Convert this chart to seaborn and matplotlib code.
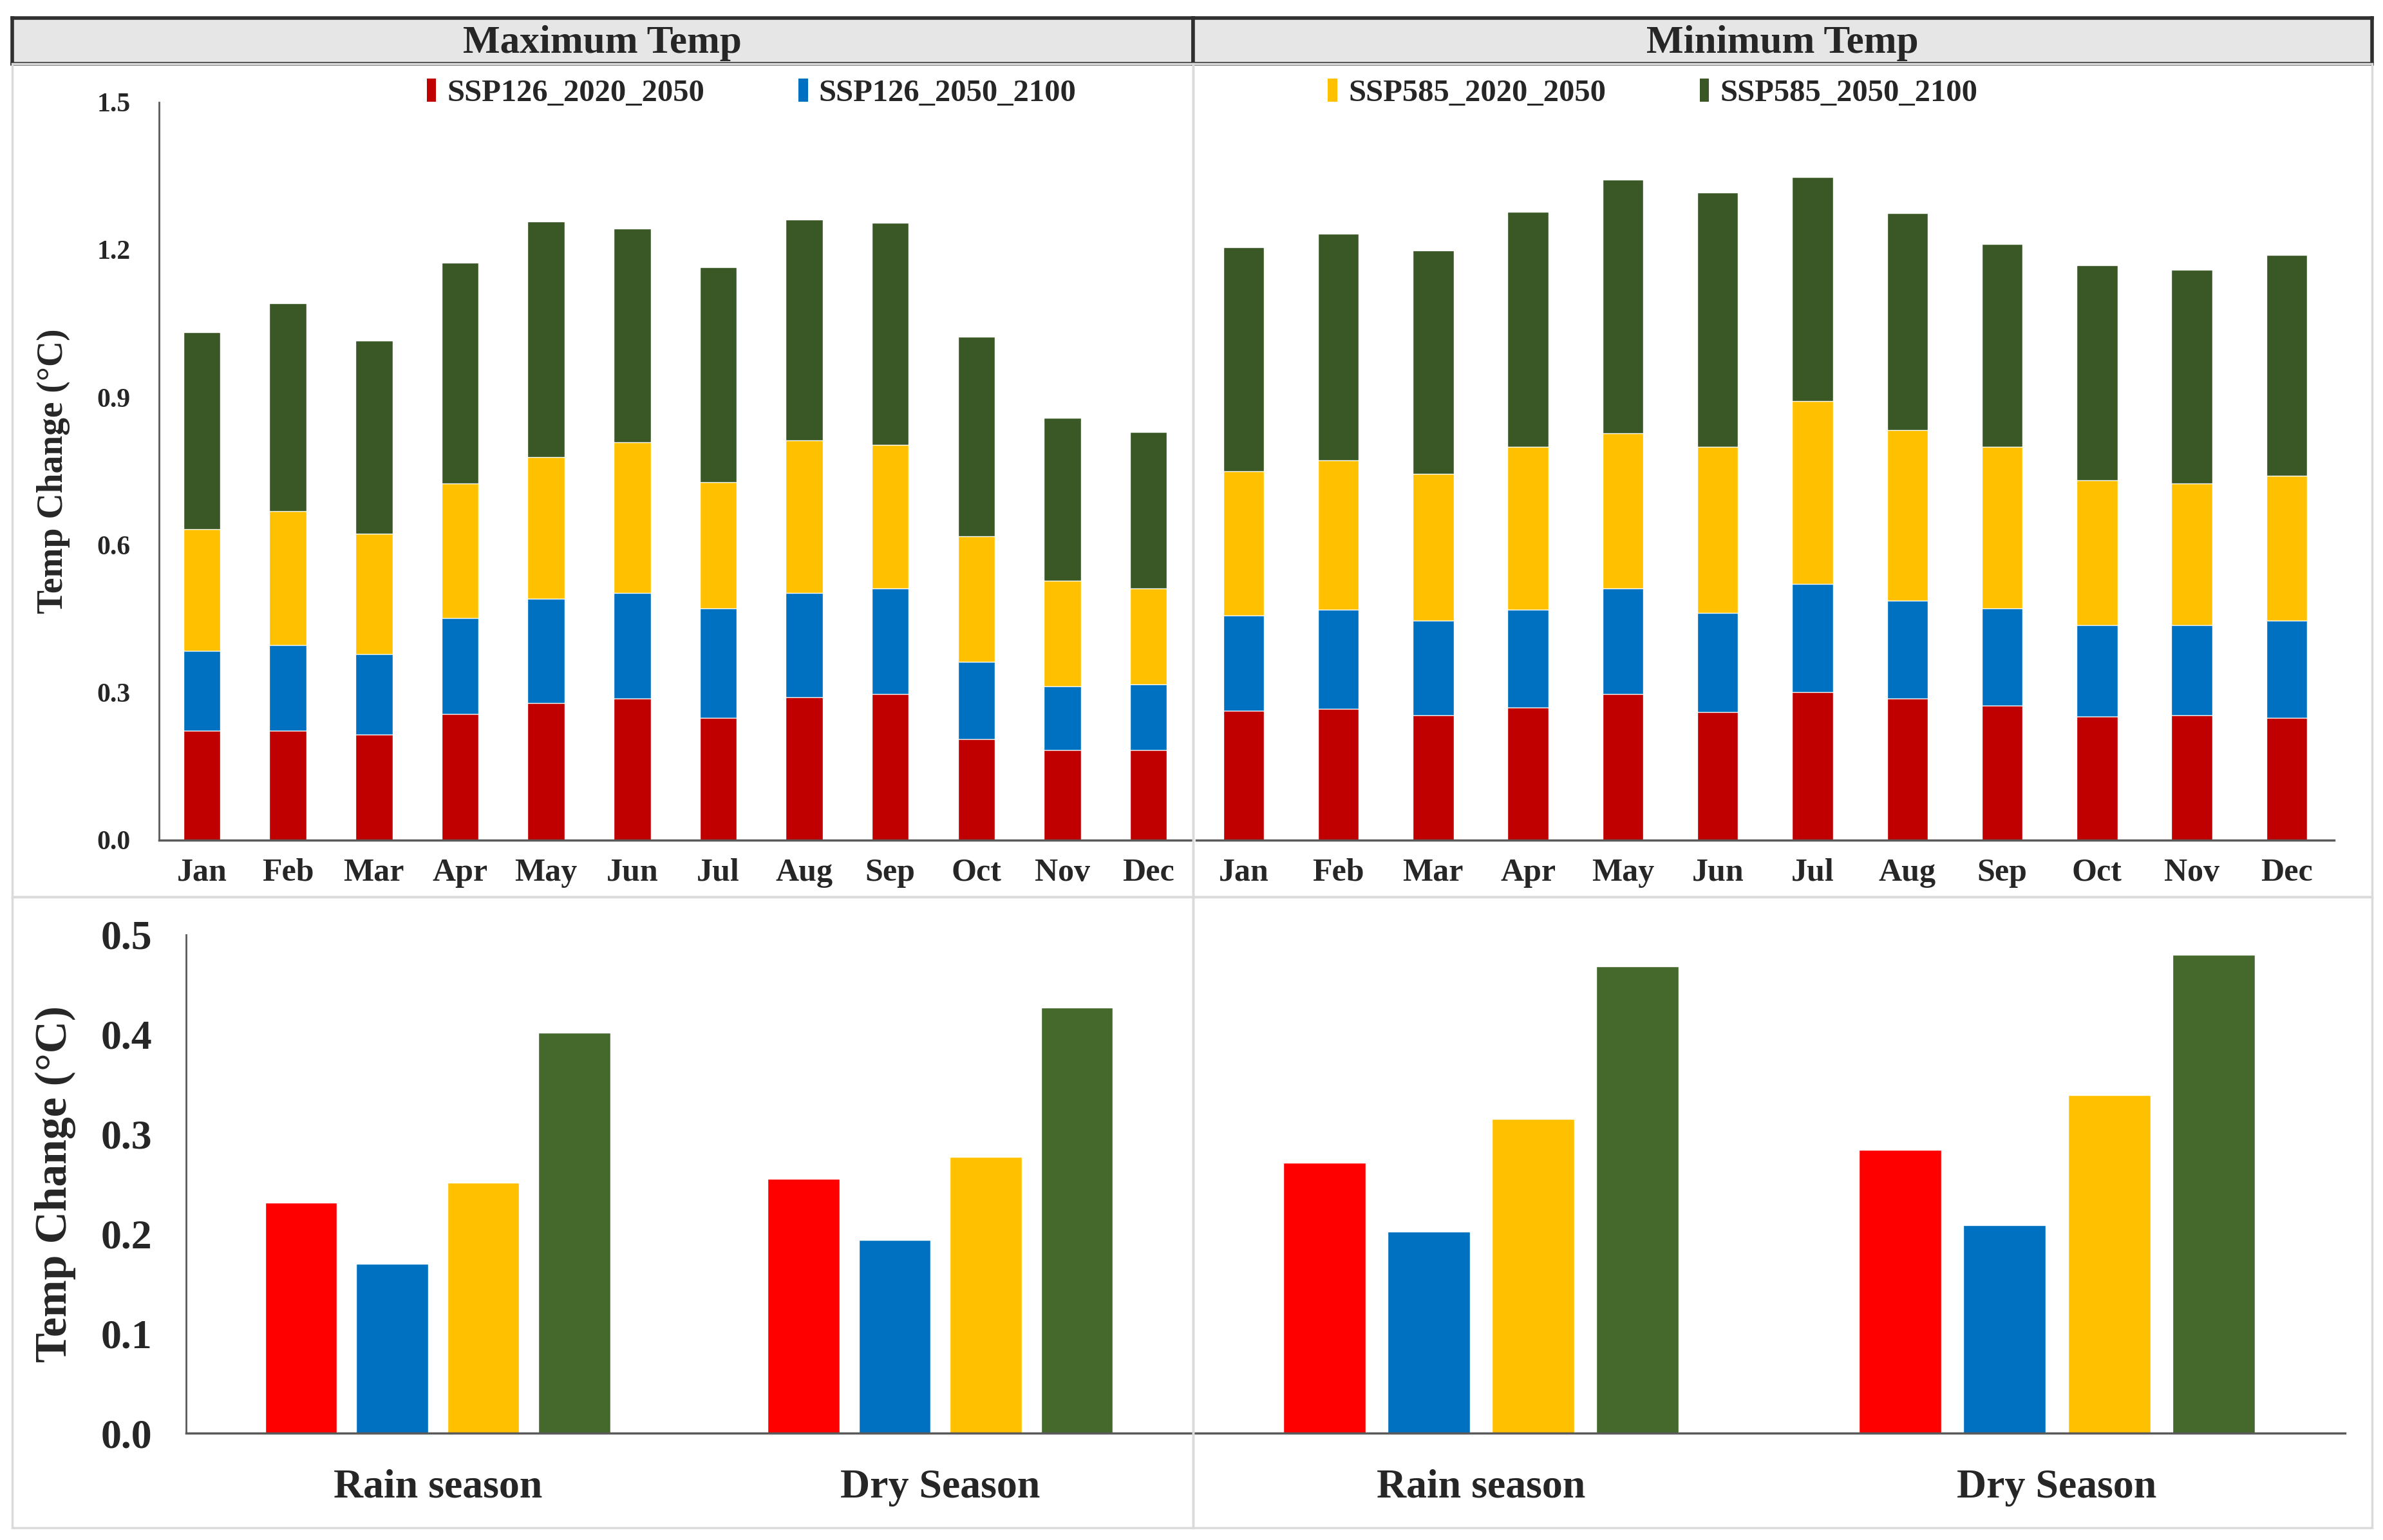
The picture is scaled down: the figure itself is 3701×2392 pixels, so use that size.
import pandas as pd
import seaborn as sns
import matplotlib.pyplot as plt
from matplotlib.patches import Rectangle, Patch

# datos mensuales (cambio de temperatura por escenario, en barras apiladas)
months = ['Jan', 'Feb', 'Mar', 'Apr', 'May', 'Jun', 'Jul', 'Aug', 'Sep', 'Oct', 'Nov', 'Dec']
scenarios = ['SSP126_2020_2050', 'SSP126_2050_2100', 'SSP585_2020_2050', 'SSP585_2050_2100']

max_ssp126_2020 = [0.223, 0.223, 0.214, 0.257, 0.279, 0.288, 0.248, 0.291, 0.297, 0.205, 0.183, 0.183]
max_ssp126_2050 = [0.161, 0.174, 0.164, 0.195, 0.211, 0.214, 0.223, 0.211, 0.214, 0.158, 0.130, 0.133]
max_ssp585_2020 = [0.248, 0.272, 0.245, 0.273, 0.288, 0.307, 0.257, 0.310, 0.292, 0.254, 0.214, 0.195]
max_ssp585_2050 = [0.400, 0.422, 0.393, 0.449, 0.480, 0.434, 0.437, 0.449, 0.452, 0.406, 0.331, 0.319]

min_ssp126_2020 = [0.263, 0.267, 0.254, 0.270, 0.297, 0.260, 0.301, 0.288, 0.273, 0.251, 0.254, 0.248]
min_ssp126_2050 = [0.193, 0.201, 0.192, 0.198, 0.214, 0.202, 0.220, 0.199, 0.198, 0.186, 0.183, 0.198]
min_ssp585_2020 = [0.294, 0.304, 0.298, 0.332, 0.316, 0.338, 0.371, 0.347, 0.329, 0.294, 0.288, 0.295]
min_ssp585_2050 = [0.455, 0.461, 0.455, 0.477, 0.515, 0.517, 0.456, 0.440, 0.412, 0.437, 0.434, 0.449]

# datos por temporada
seasons = ['Rain season', 'Dry Season']
max_rain = [0.231, 0.170, 0.251, 0.402]
max_dry = [0.255, 0.194, 0.277, 0.427]
min_rain = [0.271, 0.202, 0.315, 0.468]
min_dry = [0.284, 0.209, 0.339, 0.480]

top_colors = ['#C00000', '#0070C0', '#FFC000', '#3A5726']
bottom_colors = ['#FF0000', '#0070C0', '#FFC000', '#45692C']

sns.set_style('white')
plt.rcParams['font.family'] = ['Liberation Serif', 'DejaVu Serif']
plt.rcParams['font.weight'] = 'bold'

W, H = 1560.0, 1010.0  # coordenadas de referencia para la maqueta


def box(x0, y0, x1, y1):
    return [x0 / W, 1 - y1 / H, (x1 - x0) / W, (y1 - y0) / H]


fig = plt.figure(figsize=(37.01, 23.92), dpi=100)
fig.patch.set_facecolor('white')

# marcos de los paneles
for rect in [box(8, 42, 781, 588), box(781, 42, 1553, 588),
             box(8, 588, 781, 1002), box(781, 588, 1553, 1002)]:
    fig.add_artist(Rectangle((rect[0], rect[1]), rect[2], rect[3], transform=fig.transFigure,
                             fill=False, edgecolor='#DADADA', linewidth=2.5))

# cabeceras
for rect, title in [(box(8, 12, 781, 42), 'Maximum Temp'), (box(781, 12, 1553, 42), 'Minimum Temp')]:
    hax = fig.add_axes(rect)
    hax.set_facecolor('#E6E6E6')
    hax.set_xticks([])
    hax.set_yticks([])
    for sp in hax.spines.values():
        sp.set_linewidth(4)
        sp.set_edgecolor('#303030')
    hax.text(0.5, 0.45, title, ha='center', va='center', fontsize=44, fontweight='bold',
             transform=hax.transAxes)


def stacked(ax, series):
    # dibujar desde el total hacia abajo
    df = pd.DataFrame({'month': months})
    cum = [0.0] * len(months)
    cums = []
    for s in series:
        cum = [c + v for c, v in zip(cum, s)]
        cums.append(cum)
    for cum, col in reversed(list(zip(cums, top_colors))):
        df['val'] = cum
        sns.barplot(data=df, x='month', y='val', color=col, width=0.43, saturation=1, ax=ax)


def style(ax, show_y, ylim, yticks, tick_fs, lab_fs, xpad, ypad):
    ax.set_ylim(*ylim)
    ax.set_yticks(yticks)
    ax.set_xlabel('')
    ax.set_ylabel('')
    for s in ['top', 'right']:
        ax.spines[s].set_visible(False)
    ax.spines['bottom'].set_color('#5A5A5A')
    ax.spines['bottom'].set_linewidth(2.5)
    ax.spines['left'].set_color('#5A5A5A')
    ax.spines['left'].set_linewidth(2)
    ax.tick_params(axis='x', length=0, pad=xpad, labelsize=lab_fs)
    ax.tick_params(axis='y', length=0, pad=ypad, labelsize=tick_fs)
    if show_y:
        ax.set_yticklabels(['{:.1f}'.format(v) for v in yticks])
    else:
        ax.spines['left'].set_visible(False)
        ax.set_yticklabels([])
    for lab in ax.get_xticklabels() + ax.get_yticklabels():
        lab.set_fontweight('bold')


# paneles mensuales
ax1 = fig.add_axes(box(104, 67, 780, 551))
stacked(ax1, [max_ssp126_2020, max_ssp126_2050, max_ssp585_2020, max_ssp585_2050])
style(ax1, True, (0, 1.5), [0, 0.3, 0.6, 0.9, 1.2, 1.5], 30, 36, 20, 32)
ax1.set_ylabel('Temp Change (°C)', fontsize=40, fontweight='bold')
ax1.yaxis.set_label_coords(-0.086, 0.5)

ax2 = fig.add_axes(box(783, 67, 1528, 551))
stacked(ax2, [min_ssp126_2020, min_ssp126_2050, min_ssp585_2020, min_ssp585_2050])
style(ax2, False, (0, 1.5), [0, 0.3, 0.6, 0.9, 1.2, 1.5], 30, 36, 20, 32)

# leyendas
handles = [Patch(facecolor=c, edgecolor='none') for c in top_colors]
leg_kw = dict(ncol=2, frameon=False, handlelength=0.3, handleheight=0.75,
              handletextpad=0.35, columnspacing=3.0, loc='center',
              bbox_transform=fig.transFigure, prop={'weight': 'bold', 'size': 35})
ax1.legend(handles[:2], scenarios[:2], bbox_to_anchor=(492 / W, 1 - 61 / H), **leg_kw)
ax2.legend(handles[2:], scenarios[2:], bbox_to_anchor=(1082 / W, 1 - 61 / H), **leg_kw)


# paneles por temporada
def seasonal(ax, rain, dry):
    df = pd.DataFrame({
        'season': [seasons[0]] * 4 + [seasons[1]] * 4,
        'scenario': scenarios * 2,
        'value': rain + dry,
    })
    sns.barplot(data=df, x='season', y='value', hue='scenario', hue_order=scenarios,
                palette=bottom_colors, width=0.725, gap=0.21, saturation=1, legend=False, ax=ax)


ax3 = fig.add_axes(box(122, 613, 780, 940))
seasonal(ax3, max_rain, max_dry)
style(ax3, True, (0, 0.5), [0, 0.1, 0.2, 0.3, 0.4, 0.5], 46, 46, 40, 38)
ax3.set_ylabel('Temp Change (°C)', fontsize=50, fontweight='bold')
ax3.yaxis.set_label_coords(-0.11, 0.5)

ax4 = fig.add_axes(box(781, 613, 1535, 940))
seasonal(ax4, min_rain, min_dry)
style(ax4, False, (0, 0.5), [0, 0.1, 0.2, 0.3, 0.4, 0.5], 46, 46, 40, 38)

plt.savefig('out.png', dpi=100, facecolor='white')
